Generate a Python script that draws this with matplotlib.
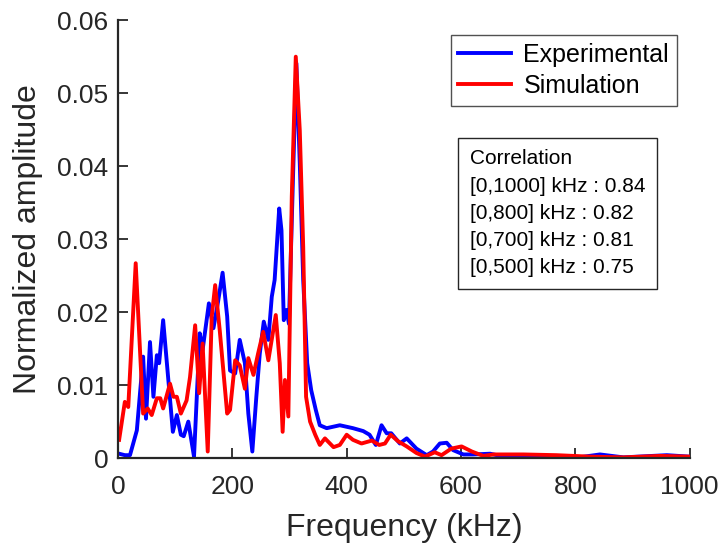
import matplotlib
matplotlib.use("Agg")
import matplotlib.pyplot as plt

plt.rcParams['font.family'] = ['Liberation Sans', 'DejaVu Sans']

# Experimental spectrum
exp_f = [2, 12, 21, 33, 44, 49, 56, 62, 68, 72, 79, 96, 103, 110, 115, 123, 133,
         143, 148, 159, 167, 175, 183, 191, 196, 205, 213, 222, 228, 235, 242, 248,
         255, 263, 269, 274, 282, 286, 290, 295, 299, 306, 312, 318, 324, 331, 338,
         346, 353, 365, 388, 411, 429, 440, 451, 461, 470, 478, 493, 505, 522, 540,
         551, 563, 575, 586, 604, 621, 651, 680, 727, 797, 843, 884, 960, 1000]
exp_a = [0.0006, 0.0004, 0.0004, 0.0038, 0.0139, 0.0054, 0.0159, 0.0084, 0.0141,
         0.0130, 0.0189, 0.0036, 0.0059, 0.0032, 0.0030, 0.0050, 0.0002, 0.0171,
         0.0148, 0.0212, 0.0178, 0.0214, 0.0254, 0.0194, 0.0120, 0.0116, 0.0162,
         0.0130, 0.0061, 0.0009, 0.0084, 0.0143, 0.0187, 0.0162, 0.0221, 0.0244,
         0.0342, 0.0312, 0.0189, 0.0203, 0.0184, 0.0381, 0.0541, 0.0404, 0.0244,
         0.0130, 0.0093, 0.0066, 0.0045, 0.0041, 0.0045, 0.0041, 0.0037, 0.0032,
         0.0018, 0.0045, 0.0034, 0.0034, 0.0020, 0.0027, 0.0013, 0.0004, 0.0009,
         0.0020, 0.0021, 0.0011, 0.0005, 0.0005, 0.0006, 0.0001, 0.0004, 0.0000,
         0.0005, 0.0001, 0.0004, 0.0002]

# Simulated spectrum
sim_f = [2, 12, 18, 31, 44, 52, 59, 68, 74, 79, 91, 97, 103, 110, 120, 126, 135,
         142, 148, 157, 164, 170, 178, 191, 196, 205, 213, 222, 228, 237, 245, 254,
         263, 276, 283, 288, 292, 298, 304, 311, 318, 324, 329, 336, 345, 353, 362,
         377, 388, 400, 411, 426, 444, 457, 467, 477, 490, 505, 522, 537, 554, 566,
         583, 601, 619, 639, 657, 709, 767, 826, 884, 948, 1000]
sim_a = [0.0025, 0.0077, 0.0070, 0.0267, 0.0061, 0.0068, 0.0059, 0.0082, 0.0082,
         0.0068, 0.0102, 0.0084, 0.0084, 0.0061, 0.0079, 0.0111, 0.0182, 0.0089,
         0.0157, 0.0009, 0.0194, 0.0237, 0.0175, 0.0061, 0.0066, 0.0134, 0.0127,
         0.0095, 0.0137, 0.0114, 0.0143, 0.0173, 0.0134, 0.0196, 0.0130, 0.0036,
         0.0107, 0.0057, 0.0358, 0.0550, 0.0449, 0.0289, 0.0084, 0.0050, 0.0032,
         0.0018, 0.0027, 0.0015, 0.0018, 0.0032, 0.0025, 0.0020, 0.0024, 0.0018,
         0.0020, 0.0032, 0.0023, 0.0016, 0.0007, 0.0002, 0.0008, 0.0004, 0.0013,
         0.0016, 0.0009, 0.0003, 0.0005, 0.0005, 0.0004, 0.0002, 0.0001, 0.0003,
         0.0002]

corr_ranges = ['[0,1000]', '[0,800]', '[0,700]', '[0,500]']
corr_values = [0.84, 0.82, 0.81, 0.75]

fig = plt.figure(figsize=(7.26, 5.46), dpi=100)
ax = fig.add_axes([0.1625, 0.161, 0.7875, 0.802])

ax.plot(exp_f, exp_a, color='#0000ff', lw=2.8, label='Experimental')
ax.plot(sim_f, sim_a, color='#ff0000', lw=2.8, label='Simulation')

ax.set_xlim(0, 1000)
ax.set_ylim(0, 0.06)
ax.set_xticks([0, 200, 400, 600, 800, 1000])
ax.set_yticks([0, 0.01, 0.02, 0.03, 0.04, 0.05, 0.06])
ax.set_yticklabels(['0', '0.01', '0.02', '0.03', '0.04', '0.05', '0.06'])
ax.tick_params(direction='in', length=7, width=1.3, labelsize=19, colors='#262626')
ax.tick_params(axis='x', pad=12)
ax.tick_params(axis='y', pad=7)
for s in ['top', 'right']:
    ax.spines[s].set_visible(False)
for s in ['left', 'bottom']:
    ax.spines[s].set_linewidth(1.6)
    ax.spines[s].set_color('#262626')

ax.set_xlabel('Frequency (kHz)', fontsize=23, color='#262626', labelpad=10)
ax.set_ylabel('Normalized amplitude', fontsize=23, color='#262626', labelpad=10)

leg = ax.legend(loc='upper right', bbox_to_anchor=(0.977, 0.966), borderaxespad=0,
                fontsize=18, frameon=True, fancybox=False, edgecolor='#262626',
                handlelength=2.1, handletextpad=0.5, borderpad=0.3, labelspacing=0.3)
leg.get_frame().set_linewidth(1.0)

lines = ['Correlation'] + [f'{r} kHz : {v:.2f}' for r, v in zip(corr_ranges, corr_values)]
ax.text(0.615, 0.705, '\n'.join(lines), transform=ax.transAxes, fontsize=15,
        va='top', ha='left', linespacing=1.55,
        bbox=dict(boxstyle='square,pad=0.55', fc='white', ec='#262626', lw=1.0))

fig.savefig('out.png', dpi=100)
